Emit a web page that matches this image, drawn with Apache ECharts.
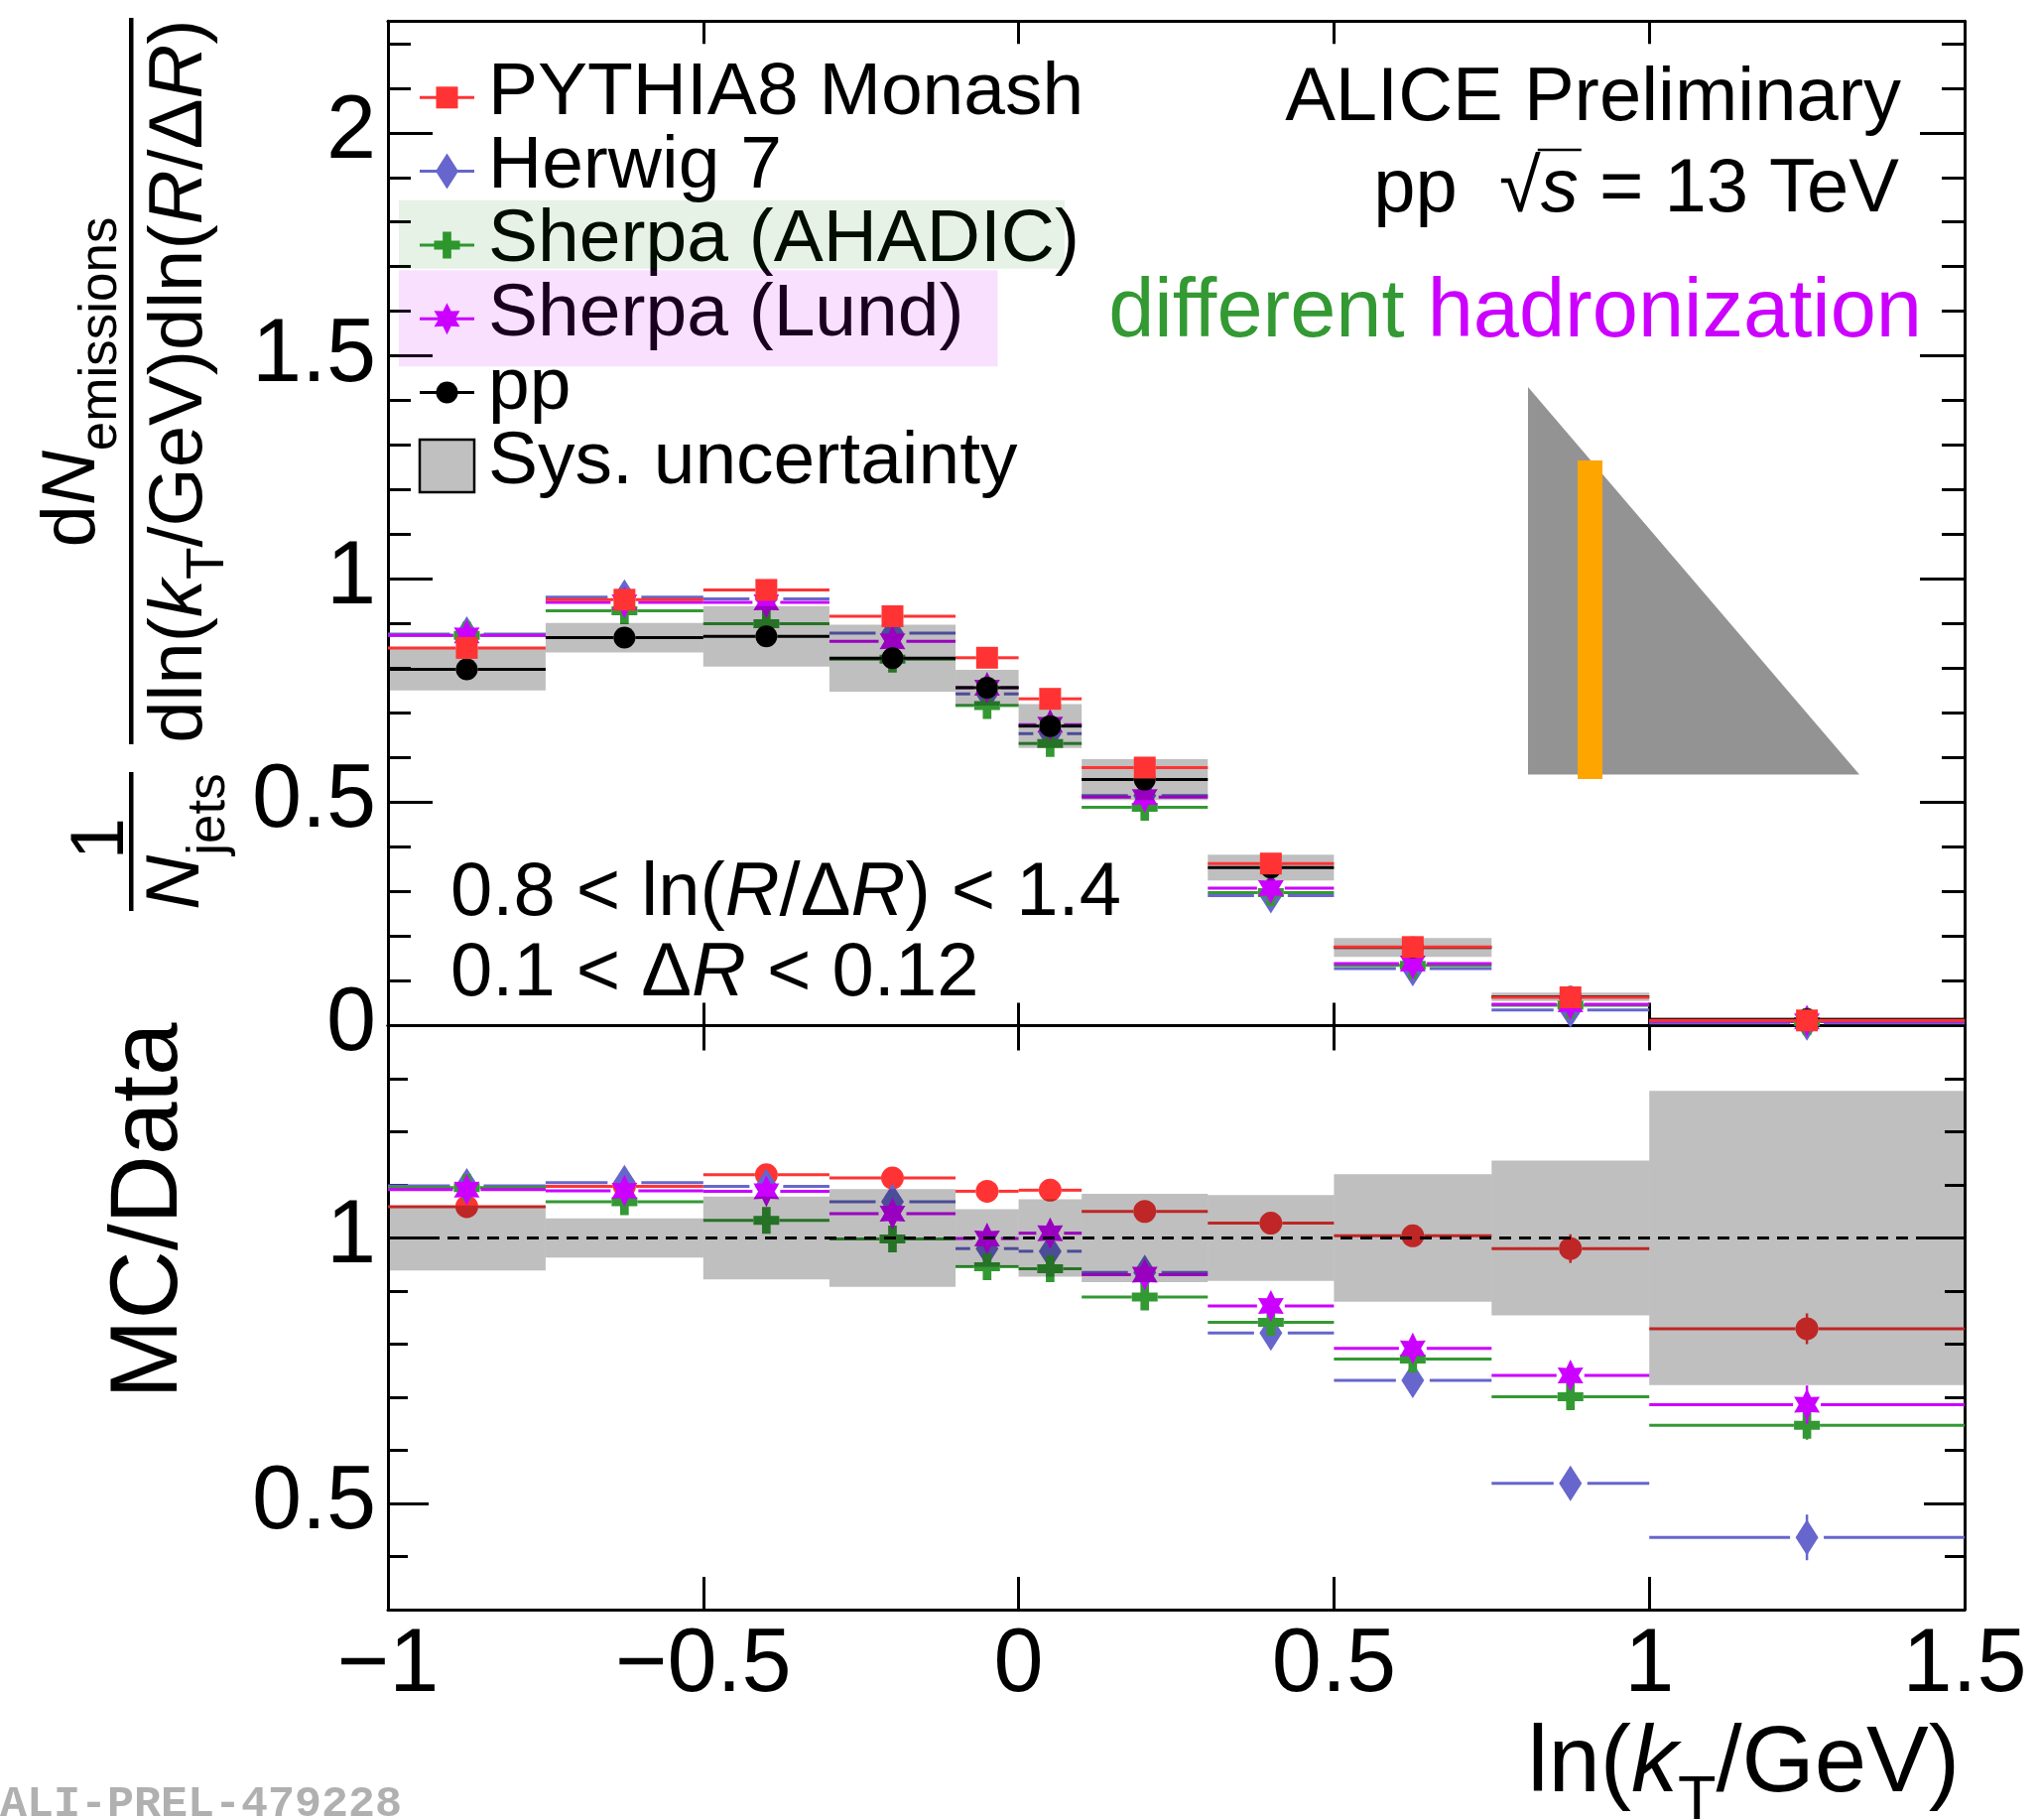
<!DOCTYPE html>
<html><head><meta charset="utf-8">
<script src="https://cdn.jsdelivr.net/npm/echarts@6/dist/echarts.min.js"></script>
<style>html,body{margin:0;padding:0;background:#fff}#c{width:2056px;height:1834px}</style>
</head><body><div id="c"></div>
<script>
// ---------------- data ----------------
const binLo = [-1, -0.75, -0.5, -0.3, -0.1, 0, 0.1, 0.3, 0.5, 0.75, 1];
const binHi = [-0.75, -0.5, -0.3, -0.1, 0, 0.1, 0.3, 0.5, 0.75, 1, 1.5];

const ppVal     = [0.798, 0.869, 0.872, 0.823, 0.757, 0.671, 0.551, 0.354, 0.175, 0.0646, 0.014];
const ppSys     = [0.047, 0.033, 0.068, 0.075, 0.040, 0.049, 0.046, 0.029, 0.021, 0.0094, 0.0039];
const pythiaVal = [0.846, 0.954, 0.976, 0.917, 0.824, 0.732, 0.578, 0.363, 0.176, 0.0633, 0.0116];
const herwigVal = [0.877, 0.960, 0.956, 0.879, 0.743, 0.654, 0.515, 0.291, 0.128, 0.0348, 0.0061];
const ahadicVal = [0.874, 0.929, 0.900, 0.821, 0.717, 0.632, 0.489, 0.298, 0.135, 0.0453, 0.0091];
const lundVal   = [0.874, 0.948, 0.948, 0.861, 0.757, 0.674, 0.512, 0.308, 0.139, 0.0479, 0.0096];

const ratioSys    = [0.061, 0.037, 0.078, 0.092, 0.054, 0.073, 0.083, 0.081, 0.120, 0.146, 0.277];
const pythiaRatio = [1.059, 1.097, 1.119, 1.113, 1.088, 1.090, 1.050, 1.028, 1.004, 0.980, 0.829];
const herwigRatio = [1.098, 1.104, 1.097, 1.068, 0.980, 0.975, 0.935, 0.821, 0.732, 0.538, 0.436];
const ahadicRatio = [1.095, 1.068, 1.033, 0.998, 0.946, 0.942, 0.889, 0.841, 0.772, 0.701, 0.647];
const lundRatio   = [1.091, 1.089, 1.088, 1.046, 0.999, 1.009, 0.931, 0.872, 0.792, 0.741, 0.686];
const pythiaRatioErr = [0.004, 0.004, 0.004, 0.004, 0.005, 0.005, 0.006, 0.008, 0.012, 0.027, 0.029];
const herwigRatioErr = [0.004, 0.004, 0.004, 0.004, 0.005, 0.005, 0.006, 0.008, 0.012, 0.020, 0.043];
const ahadicRatioErr = [0.004, 0.004, 0.004, 0.004, 0.005, 0.005, 0.006, 0.008, 0.012, 0.020, 0.027];
const lundRatioErr   = [0.004, 0.004, 0.004, 0.004, 0.005, 0.005, 0.006, 0.008, 0.012, 0.020, 0.036];

const xTicks   = [-1, -0.5, 0, 0.5, 1, 1.5];
const topMajor = [0, 0.5, 1, 1.5, 2];
const topMinor = [0.1, 0.2, 0.3, 0.4, 0.6, 0.7, 0.8, 0.9, 1.1, 1.2, 1.3, 1.4, 1.6, 1.7, 1.8, 1.9, 2.1, 2.2];
const lowMajor = [0.5, 1];
const lowMinor = [0.4, 0.6, 0.7, 0.8, 0.9, 1.1, 1.2, 1.3];

const legendNames = ['PYTHIA8 Monash', 'Herwig 7', 'Sherpa (AHADIC)', 'Sherpa (Lund)', 'pp', 'Sys. uncertainty'];

// ---------------- styles ----------------
const RED = '#ff3333', BLUE = '#6666cc', GREEN = '#339933', MAG = '#cc00ff', BLACK = '#000000';
const FAM = '"Liberation Sans", Arial, Helvetica, sans-serif';
const MONO = '"Liberation Mono", "DejaVu Sans Mono", monospace';
const MID = 0.28;

const SHAPES = {
  square: [[-1, -1], [1, -1], [1, 1], [-1, 1]],
  diamond: [[0, -1], [1, 0], [0, 1], [-1, 0]],
  cross: [[-1/3, -1], [1/3, -1], [1/3, -1/3], [1, -1/3], [1, 1/3], [1/3, 1/3], [1/3, 1], [-1/3, 1], [-1/3, 1/3], [-1, 1/3], [-1, -1/3], [-1/3, -1/3]],
  star: (function () { const p = []; for (let k = 0; k < 12; k++) { const a = -Math.PI / 2 + k * Math.PI / 6; const r = k % 2 ? 0.55 : 1; p.push([r * Math.cos(a), r * Math.sin(a)]); } return p; })()
};
const MK = {
  square: [11, 11], circle: [11, 11], circleL: [11.5, 11.5], diamond: [11.5, 18], cross: [13, 13.5], star: [15, 16]
};
const GAP = { square: 11, circle: 11, circleL: 11.5, diamond: 17, cross: 13, star: 14 };
function markerShape(kind, cx, cy, color, z2) {
  const s = MK[kind];
  if (kind === 'circle' || kind === 'circleL') return { type: 'circle', z2: z2 || 0, shape: { cx: cx, cy: cy, r: s[0] }, style: { fill: color } };
  return { type: 'polygon', z2: z2 || 0, shape: { points: SHAPES[kind].map(p => [cx + p[0] * s[0], cy + p[1] * s[1]]) }, style: { fill: color } };
}

function stepSeries(xi, yi, vals, errs, color, kind, z) {
  const gap = GAP[kind];
  return {
    type: 'custom', xAxisIndex: xi, yAxisIndex: yi, z: z, clip: false,
    data: vals.map((v, i) => [binLo[i], binHi[i], v, errs ? errs[i] : 0]),
    encode: { x: [0, 1], y: 2 },
    renderItem: function (params, api) {
      const lo = api.value(0), hi = api.value(1), y = api.value(2), e = api.value(3);
      const xc = (lo + hi) / 2;
      const a = api.coord([lo, y]), b = api.coord([hi, y]), c = api.coord([xc, y]);
      const ls = { stroke: color, lineWidth: 3 };
      const kids = [];
      if (c[0] - gap > a[0]) kids.push({ type: 'line', shape: { x1: a[0], y1: a[1], x2: c[0] - gap, y2: c[1] }, style: ls });
      if (b[0] > c[0] + gap) kids.push({ type: 'line', shape: { x1: c[0] + gap, y1: c[1], x2: b[0], y2: b[1] }, style: ls });
      if (e > 0) {
        const t = api.coord([xc, y + e]), u = api.coord([xc, y - e]);
        kids.push({ type: 'line', shape: { x1: t[0], y1: t[1], x2: u[0], y2: u[1] }, style: { stroke: color, lineWidth: 2.5 } });
      }
      kids.push(markerShape(kind, c[0], c[1], color, 1));
      return { type: 'group', children: kids };
    }
  };
}
function boxSeries(xi, yi, centers, errs, z) {
  return {
    type: 'custom', xAxisIndex: xi, yAxisIndex: yi, z: z, clip: false,
    data: errs.map((e, i) => [binLo[i], binHi[i], centers[i], e]),
    encode: { x: [0, 1], y: 2 },
    renderItem: function (params, api) {
      const t = api.coord([api.value(0), api.value(2) + api.value(3)]);
      const u = api.coord([api.value(1), api.value(2) - api.value(3)]);
      return { type: 'rect', shape: { x: t[0], y: t[1], width: u[0] - t[0], height: u[1] - t[1] }, style: { fill: 'rgba(0,0,0,0.25)' } };
    }
  };
}

// ---------------- text layout helpers ----------------
const mctx = document.createElement('canvas').getContext('2d');
function fnt(s, it, b, fam) { return (it ? 'italic ' : '') + (b ? 'bold ' : '') + s + 'px ' + (fam || FAM); }
function run(segs) {
  let x = 0; const ch = [];
  segs.forEach(g => {
    const f = fnt(g.s, g.it, g.b, g.fam);
    mctx.font = f;
    const w = mctx.measureText(g.t).width;
    ch.push({ type: 'text', x: x, y: (g.dy || 0) - MID * g.s, _w: w,
      style: { text: g.t, font: f, fill: g.fill || '#000', align: 'left', verticalAlign: 'middle', textAlign: 'left', textVerticalAlign: 'middle' } });
    x += w;
  });
  return { children: ch, width: x };
}
function place(segs, x, y, anchor, rot, z) {
  const r = run(segs);
  const off = anchor === 'right' ? -r.width : (anchor === 'center' ? -r.width / 2 : 0);
  r.children.forEach(c => { c.x += off; });
  return { type: 'group', x: x, y: y, rotation: rot || 0, z: z || 10, children: r.children };
}

const graphics = [];
// y-axis title (rotated)
const RT = Math.PI / 2;
graphics.push(place([{ t: 'd', s: 76 }, { t: 'N', s: 76, it: 1 }, { t: 'emissions', s: 53, dy: 22 }], 95, 385, 'center', RT));
graphics.push(place([{ t: 'dln(', s: 76 }, { t: 'k', s: 76, it: 1 }, { t: 'T', s: 53, dy: 22 }, { t: '/GeV)dln(', s: 76 },
  { t: 'R', s: 76, it: 1 }, { t: '/\u0394', s: 76 }, { t: 'R', s: 76, it: 1 }, { t: ')', s: 76 }], 203, 384, 'center', RT));
graphics.push(place([{ t: '1', s: 76 }], 124, 845, 'center', RT));
graphics.push(place([{ t: 'N', s: 76, it: 1 }, { t: 'jets', s: 53, dy: 26 }], 200, 848, 'center', RT));
graphics.push({ type: 'rect', z: 10, shape: { x: 130, y: 18, width: 4.5, height: 732 }, style: { fill: '#000' } });
graphics.push({ type: 'rect', z: 10, shape: { x: 130, y: 778, width: 4.5, height: 140 }, style: { fill: '#000' } });
// lower y title
graphics.push(place([{ t: 'MC/Data', s: 96 }], 178, 1220, 'center', RT));
// x title
graphics.push(place([{ t: 'ln(', s: 94 }, { t: 'k', s: 94, it: 1 }, { t: 'T', s: 63, dy: 28 }, { t: '/GeV)', s: 94 }], 1975, 1805, 'right'));

// legend
const legY0 = 98.3, legDY = 74.3, legTextX = 492, legBase0 = 115;
const legKinds = [['square', RED], ['diamond', BLUE], ['cross', GREEN], ['star', MAG], ['circle', BLACK]];
legKinds.forEach((k, i) => {
  const y = legY0 + legDY * i;
  graphics.push({ type: 'line', z: 10, shape: { x1: 423, y1: y, x2: 478, y2: y }, style: { stroke: k[1], lineWidth: 3 } });
  const m = markerShape(k[0], 450.5, y, k[1]); m.z = 10; graphics.push(m);
});
graphics.push({ type: 'rect', z: 10, shape: { x: 423, y: 443, width: 55, height: 53 }, style: { fill: '#c0c0c0', stroke: '#000', lineWidth: 2.5 } });
legendNames.forEach((n, i) => {
  graphics.push(place([{ t: n, s: 75 }], legTextX, legBase0 + 74.4 * i, 'left', 0, 10));
});
graphics.push({ type: 'rect', z: 11, shape: { x: 402, y: 201.7, width: 671, height: 69 }, style: { fill: 'rgba(0,128,0,0.10)' } });
graphics.push({ type: 'rect', z: 11, shape: { x: 402, y: 272.3, width: 603.5, height: 97 }, style: { fill: 'rgba(204,0,255,0.12)' } });

// top-right texts
graphics.push(place([{ t: 'ALICE Preliminary', s: 76 }], 1916, 121, 'right'));
const ppRun = place([{ t: 'pp  ', s: 76 }, { t: '\u221A', s: 76 }, { t: 's', s: 76, it: 1 }, { t: ' = 13 TeV', s: 76 }], 1914, 213, 'right');
graphics.push(ppRun);
(function () {
  const kids = ppRun.children;
  const sqEnd = kids[1].x + kids[1]._w;
  const sEnd = kids[2].x + kids[2]._w;
  graphics.push({ type: 'line', z: 10, shape: { x1: 1914 + sqEnd - 3, y1: 151, x2: 1914 + sEnd + 3, y2: 151 }, style: { stroke: '#000', lineWidth: 2.5 } });
})();
graphics.push(place([{ t: 'different ', s: 83, fill: GREEN }, { t: 'hadronization', s: 83, fill: MAG }], 1937, 339, 'right'));

// selection text
graphics.push(place([{ t: '0.8 < ln(', s: 76 }, { t: 'R', s: 76, it: 1 }, { t: '/\u0394', s: 76 }, { t: 'R', s: 76, it: 1 }, { t: ') < 1.4', s: 76 }], 454, 922, 'left'));
graphics.push(place([{ t: '0.1 < \u0394', s: 76 }, { t: 'R', s: 76, it: 1 }, { t: ' < 0.12', s: 76 }], 454, 1003, 'left'));

// Lund-plane sketch
graphics.push({ type: 'polygon', z: 1, shape: { points: [[1540, 390], [1540, 780.5], [1874, 780.5]] }, style: { fill: '#939393' } });
graphics.push({ type: 'rect', z: 1, shape: { x: 1590, y: 464, width: 25, height: 321 }, style: { fill: '#ffa500' } });

// preliminary tag
graphics.push(place([{ t: 'ALI-PREL-479228', s: 45, b: 1, fam: MONO, fill: '#b0b0b0' }], 0, 1831, 'left'));

// ---------------- axes ----------------
function xAx(grid, pos, len, labels) {
  return {
    type: 'value', gridIndex: grid, position: pos, min: xTicks[0], max: xTicks[xTicks.length - 1], interval: 0.5,
    axisLine: { show: true, onZero: false, lineStyle: { color: '#000', width: 3 } },
    axisTick: { show: true, inside: true, length: len, customValues: xTicks, lineStyle: { color: '#000', width: 3 } },
    axisLabel: labels ? {
      show: true, customValues: xTicks, margin: 57, fontSize: 90, fontFamily: FAM, color: '#000', verticalAlign: 'middle',
      showMinLabel: true, showMaxLabel: true,
      formatter: v => (v < 0 ? '\u2212' + Math.abs(v) : String(v))
    } : { show: false },
    splitLine: { show: false }
  };
}
function yAx(grid, pos, min, max, ticks, len, labels, line) {
  return {
    type: 'value', gridIndex: grid, position: pos, min: min, max: max,
    axisLine: { show: line, onZero: false, lineStyle: { color: '#000', width: 3 } },
    axisTick: { show: true, inside: true, length: len, customValues: ticks, lineStyle: { color: '#000', width: 3 } },
    axisLabel: labels ? {
      show: true, customValues: ticks, margin: 12, fontSize: 90, fontFamily: FAM, color: '#000', padding: [10, 0, 0, 0],
      formatter: v => String(v)
    } : { show: false },
    splitLine: { show: false }
  };
}

const option = {
  animation: false,
  backgroundColor: '#fff',
  textStyle: { fontFamily: FAM },
  grid: [
    { left: 391, top: 21.3, width: 1589, height: 1012.2, containLabel: false, outerBoundsMode: 'none' },
    { left: 391, top: 1033.5, width: 1589, height: 588.5, containLabel: false, outerBoundsMode: 'none' }
  ],
  xAxis: [xAx(0, 'bottom', 23, false), xAx(0, 'top', 23, false), xAx(1, 'bottom', 33, true), xAx(1, 'top', 25, false)],
  yAxis: [
    yAx(0, 'left', 0, 2.25, topMajor, 45, true, true), yAx(0, 'left', 0, 2.25, topMinor, 23, false, false),
    yAx(0, 'right', 0, 2.25, topMajor, 45, false, true), yAx(0, 'right', 0, 2.25, topMinor, 23, false, false),
    yAx(1, 'left', 0.3, 1.4, lowMajor, 41, true, true), yAx(1, 'left', 0.3, 1.4, lowMinor, 20, false, false),
    yAx(1, 'right', 0.3, 1.4, lowMajor, 41, false, true), yAx(1, 'right', 0.3, 1.4, lowMinor, 20, false, false)
  ],
  graphic: { elements: graphics },
  series: [
    // top panel
    stepSeries(0, 0, herwigVal, null, BLUE, 'diamond', 2),
    stepSeries(0, 0, ahadicVal, null, GREEN, 'cross', 3),
    stepSeries(0, 0, lundVal, null, MAG, 'star', 4),
    boxSeries(0, 0, ppVal, ppSys, 5),
    stepSeries(0, 0, ppVal, null, BLACK, 'circle', 6),
    stepSeries(0, 0, pythiaVal, null, RED, 'square', 7),
    // ratio panel
    stepSeries(2, 4, pythiaRatio, pythiaRatioErr, RED, 'circleL', 2),
    stepSeries(2, 4, herwigRatio, herwigRatioErr, BLUE, 'diamond', 3),
    stepSeries(2, 4, ahadicRatio, ahadicRatioErr, GREEN, 'cross', 4),
    stepSeries(2, 4, lundRatio, lundRatioErr, MAG, 'star', 5),
    boxSeries(2, 4, ratioSys.map(() => 1), ratioSys, 6),
    {
      type: 'line', xAxisIndex: 2, yAxisIndex: 4, z: 7, symbol: 'none', silent: true,
      data: [[xTicks[0], 1], [xTicks[xTicks.length - 1], 1]],
      lineStyle: { color: '#000', width: 3, type: [12, 8] }
    }
  ]
};
const chart = echarts.init(document.getElementById('c'), null, { renderer: 'canvas', width: 2056, height: 1834 });
chart.setOption(option);
</script>
</body></html>
